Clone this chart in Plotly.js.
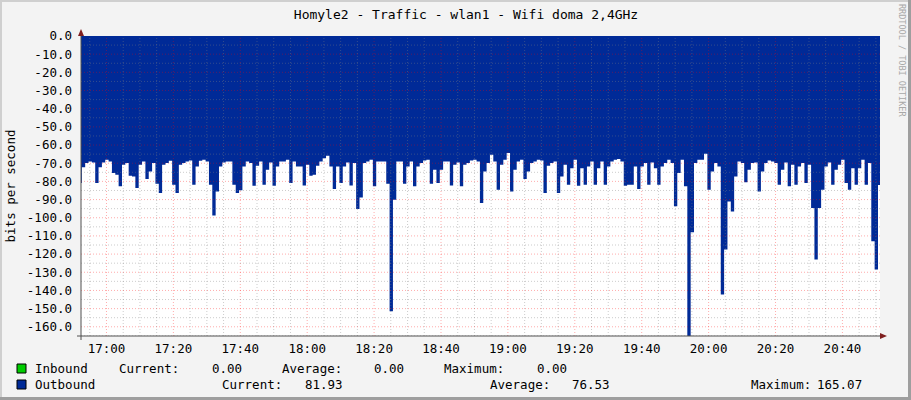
<!DOCTYPE html>
<html><head><meta charset="utf-8">
<script src="https://cdn.plot.ly/plotly-3.0.1.min.js"></script>
<style>html,body{margin:0;padding:0;background:#F3F3F3;}#chart{width:911px;height:400px;}</style>
</head><body><div id="chart"></div>
<script>
const chartTitle = 'Homyle2 - Traffic - wlan1 - Wifi doma 2,4GHz';
const yAxisTitle = 'bits per second';
// one sample per minute, first sample interval starts 16:51:38
const startTime = Date.UTC(2024, 4, 1, 16, 51, 38);
const stepMs = 60000;
const outbound = [
 -80.9,-72.2,-69.9,-69.0,-69.6,-80.9,-72.2,-69.6,-68.1,-69.0,
 -75.4,-76.4,-82.7,-70.9,-69.9,-76.9,-77.3,-83.7,-70.9,-69.0,
 -78.7,-74.5,-69.9,-81.3,-86.4,-70.9,-69.9,-68.7,-81.8,-86.4,
 -70.9,-69.9,-69.0,-68.5,-81.8,-71.8,-68.7,-68.1,-69.0,-81.8,
 -98.7,-85.5,-71.8,-69.6,-69.0,-69.0,-81.8,-86.4,-84.9,-71.8,
 -69.0,-69.9,-82.4,-71.4,-69.0,-81.8,-73.6,-69.6,-82.4,-71.8,
 -69.0,-69.0,-68.1,-80.9,-69.0,-71.8,-71.8,-82.2,-70.9,-76.9,
 -76.4,-71.4,-69.0,-67.2,-65.9,-71.8,-84.2,-71.8,-80.9,-71.8,
 -69.6,-82.2,-69.9,-95.2,-88.8,-69.9,-69.0,-68.1,-82.7,-69.0,
 -69.0,-69.0,-81.3,-151.4,-90.1,-69.0,-69.0,-81.3,-71.8,-69.0,
 -82.7,-71.8,-69.9,-68.5,-68.1,-81.3,-73.6,-80.9,-73.6,-69.0,
 -69.0,-82.2,-70.9,-69.6,-82.7,-70.9,-69.9,-68.5,-68.1,-69.0,
 -91.9,-74.5,-69.9,-65.4,-69.0,-84.6,-70.9,-68.1,-64.4,-85.5,
 -73.6,-69.0,-68.1,-78.7,-74.5,-69.9,-69.0,-68.1,-68.5,-86.4,
 -71.4,-69.9,-69.0,-86.4,-77.3,-70.9,-81.8,-72.7,-68.1,-82.4,
 -72.7,-81.8,-71.8,-69.0,-81.8,-72.7,-69.0,-81.8,-71.8,-69.0,
 -68.1,-67.7,-69.0,-82.4,-81.8,-81.8,-71.8,-84.2,-71.8,-69.9,
 -81.8,-69.6,-72.7,-81.8,-71.8,-69.9,-68.1,-69.9,-93.7,-75.4,
 -68.1,-82.7,-165.07,-108.0,-69.9,-68.1,-68.1,-64.8,-84.6,-74.5,
 -69.9,-71.8,-142.2,-117.5,-91.0,-96.5,-77.3,-69.0,-69.9,-80.5,
 -73.6,-69.9,-69.6,-85.5,-74.5,-69.9,-68.5,-69.0,-69.9,-81.8,
 -73.6,-69.6,-82.7,-70.9,-81.8,-71.8,-69.9,-80.9,-70.9,-94.7,
 -123.0,-94.7,-84.6,-71.8,-69.6,-81.8,-73.6,-70.9,-68.1,-80.9,
 -84.6,-72.7,-81.8,-72.7,-68.1,-81.8,-69.9,-112.9,-128.5,-81.93
];
const yTickValues = [0,-10,-20,-30,-40,-50,-60,-70,-80,-90,-100,-110,-120,-130,-140,-150,-160];
const yTickLabels = ['0.0','-10.0','-20.0','-30.0','-40.0','-50.0','-60.0','-70.0','-80.0','-90.0','-100.0','-110.0','-120.0','-130.0','-140.0','-150.0','-160.0'];
const seriesNames = ['Inbound','Outbound'];
const seriesColors = ['#00CC00','#002A97'];
const statLabels = ['Current:','Average:','Maximum:'];
const inboundStats = ['0.00','0.00','0.00'];
const outboundStats = ['81.93','76.53','165.07'];
const xRange = [Date.UTC(2024,4,1,16,52,23), Date.UTC(2024,4,1,20,51,14)];
const yRange = [-165.07, 0];

// step series: each value holds for one interval; closing point ends the last interval
const times = outbound.map((_, i) => startTime + i * stepMs);
const stepX = times.concat([startTime + outbound.length * stepMs]);
const stepY = outbound.concat([outbound[outbound.length - 1]]);

const L = 81, T = 36, W = 799, H = 300;
const px = p => (p - L) / W;
const py = p => (T + H - p) / H;
const FONT = 'DejaVu Sans Mono';
const MAJOR = 'rgba(255,0,0,0.33)', MINOR = 'rgba(128,128,128,0.40)', DASH = '1px,2px';

const traces = [{
  type: 'scatter', mode: 'lines', x: stepX, y: stepY, line: {shape: 'hv', width: 0, color: seriesColors[1]},
  fill: 'tozeroy', fillcolor: seriesColors[1], name: seriesNames[1], hoverinfo: 'skip'
}];

const ann = [];
function txt(x, y, s, anchor, size, color) {
  ann.push({xref: 'paper', yref: 'paper', x: px(x), y: py(y), text: s, showarrow: false,
    xanchor: anchor || 'left', yanchor: 'middle',
    font: {family: FONT, size: size || 12.5, color: color || '#000'}});
}
const r1 = 368, r2 = 384;
txt(33, r1, seriesNames[0]);
txt(117, r1, statLabels[0]); txt(244, r1, inboundStats[0], 'right');
txt(280, r1, statLabels[1]); txt(406, r1, inboundStats[1], 'right');
txt(442, r1, statLabels[2]); txt(569, r1, inboundStats[2], 'right');
txt(33, r2, seriesNames[1]);
txt(220, r2, statLabels[0]); txt(345, r2, outboundStats[0], 'right');
txt(488, r2, statLabels[1]); txt(612, r2, outboundStats[1], 'right');
txt(749, r2, statLabels[2]); txt(864, r2, outboundStats[2], 'right');
ann.push({xref: 'paper', yref: 'paper', x: px(902), y: py(60), text: 'RRDTOOL / TOBI OETIKER',
  showarrow: false, textangle: 90, xanchor: 'center', yanchor: 'middle',
  font: {family: FONT, size: 8.5, color: '#A8A8A8'}});

const shapes = [];
// grid drawn over the data, as rrdtool does
const t17 = Date.UTC(2024,4,1,17,0,0);
for (let m = -5; m <= 235; m += 5) {
  const t = t17 + m * 60000;
  if (t <= xRange[0] || t >= xRange[1]) continue;
  shapes.push({type: 'line', layer: 'above', xref: 'x', yref: 'paper', x0: t, x1: t, y0: 0, y1: 1,
    line: {color: m % 20 === 0 ? MAJOR : MINOR, width: 1, dash: DASH}});
}
for (let v = -5; v >= -165; v -= 5) {
  shapes.push({type: 'line', layer: 'above', xref: 'paper', yref: 'y', x0: 0, x1: 1, y0: v, y1: v,
    line: {color: v % 10 === 0 ? MAJOR : MINOR, width: 1, dash: DASH}});
}
shapes.push(
  {type: 'rect', xref: 'paper', yref: 'paper', x0: px(17), x1: px(26), y0: py(373), y1: py(364),
   fillcolor: seriesColors[0], line: {color: '#000', width: 1}},
  {type: 'rect', xref: 'paper', yref: 'paper', x0: px(17), x1: px(26), y0: py(389), y1: py(380),
   fillcolor: seriesColors[1], line: {color: '#000', width: 1}},
  {type: 'line', layer: 'above', xref: 'paper', yref: 'paper', x0: px(77), x1: px(883), y0: 0, y1: 0, line: {color: '#505050', width: 1}},
  {type: 'line', layer: 'above', xref: 'paper', yref: 'paper', x0: 0, x1: 0, y0: py(340), y1: py(31), line: {color: '#505050', width: 1}},
  {type: 'path', layer: 'above', xref: 'paper', yref: 'paper', xsizemode: 'pixel', ysizemode: 'pixel', xanchor: 0, yanchor: 1,
   path: 'M -3,0 L 3,0 L 0,7 Z', fillcolor: '#7F1F1F', line: {width: 0}},
  {type: 'path', layer: 'above', xref: 'paper', yref: 'paper', xsizemode: 'pixel', ysizemode: 'pixel', xanchor: px(880), yanchor: 0,
   path: 'M 0,-3 L 0,3 L 7,0 Z', fillcolor: '#7F1F1F', line: {width: 0}},
  {type: 'rect', xref: 'paper', yref: 'paper', x0: px(0), x1: px(2), y0: py(400), y1: py(0), fillcolor: '#CFCFCF', line: {width: 0}},
  {type: 'rect', xref: 'paper', yref: 'paper', x0: px(0), x1: px(911), y0: py(2), y1: py(0), fillcolor: '#CFCFCF', line: {width: 0}},
  {type: 'rect', xref: 'paper', yref: 'paper', x0: px(908), x1: px(911), y0: py(400), y1: py(0), fillcolor: '#9E9E9E', line: {width: 0}},
  {type: 'rect', xref: 'paper', yref: 'paper', x0: px(0), x1: px(911), y0: py(400), y1: py(397), fillcolor: '#9E9E9E', line: {width: 0}}
);

const layout = {
  width: 911, height: 400,
  margin: {l: L, r: 911 - L - W, t: T, b: 400 - T - H, pad: 0},
  paper_bgcolor: '#F3F3F3', plot_bgcolor: '#FFFFFF', showlegend: false,
  title: {text: chartTitle, x: 466 / 911, xref: 'container', xanchor: 'center', y: 1 - 14 / 400, yref: 'container', yanchor: 'middle',
    font: {family: FONT, size: 13, color: '#000'}},
  xaxis: {
    type: 'date', range: xRange, tick0: t17, dtick: 20 * 60000, tickformat: '%H:%M',
    showline: false, zeroline: false, ticks: '', ticklabelstandoff: 3, showgrid: false,
    tickfont: {family: FONT, size: 12.5, color: '#000'}, fixedrange: true
  },
  yaxis: {
    range: yRange, tickmode: 'array', tickvals: yTickValues, ticktext: yTickLabels,
    showline: false, zeroline: false, ticks: '', ticklabelstandoff: 8, showgrid: false,
    tickfont: {family: FONT, size: 12.5, color: '#000'},
    title: {text: yAxisTitle, standoff: 8, font: {family: FONT, size: 12.5, color: '#000'}}, fixedrange: true
  },
  annotations: ann, shapes: shapes
};

Plotly.newPlot('chart', traces, layout, {displayModeBar: false, staticPlot: true});
</script></body></html>
